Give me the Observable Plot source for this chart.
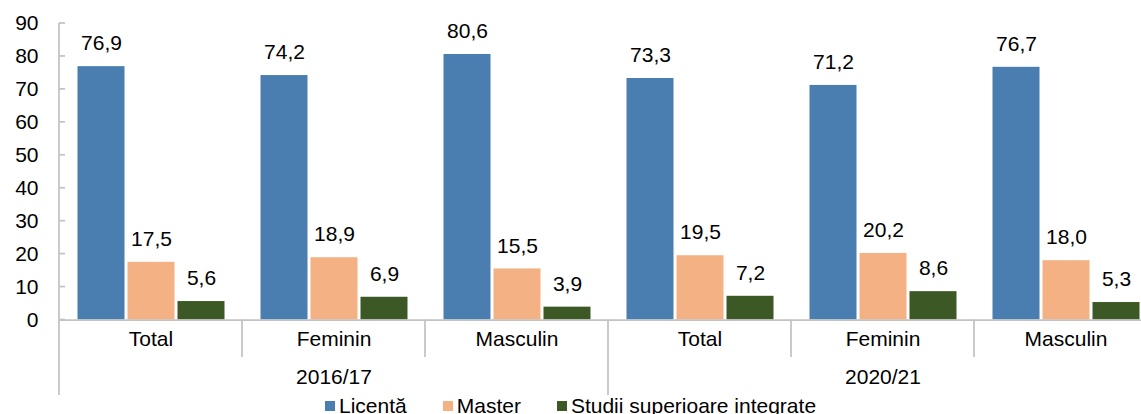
<!DOCTYPE html>
<html>
<head>
<meta charset="utf-8">
<script src="https://cdn.jsdelivr.net/npm/d3@7"></script>
<script src="https://cdn.jsdelivr.net/npm/@observablehq/plot@0.6"></script>
<style>
  html, body { margin: 0; padding: 0; background: #fff; overflow: hidden; }
  body { width: 1141px; height: 414px; font-family: "Liberation Sans", Arial, sans-serif; }
  #chart svg { display: block; max-width: none; }
  #legend { display: flex; padding-left: 325px; font-size: 21px; line-height: 21px; color: #000; height: 21px; }
  .item { display: flex; align-items: center; margin-right: 36px; }
  .sw { width: 10px; height: 10px; margin-right: 4px; }
</style>
</head>
<body>
<div id="chart"></div>
<div id="legend"></div>
<script>
const years = ["2016/17", "2020/21"];
const categories = ["Total", "Feminin", "Masculin"];
const series = ["Licentă", "Master", "Studii superioare integrate"];
const colors = ["#4a7eb1", "#f4b183", "#3b5825"];
// values per group: 2016/17 Total, Feminin, Masculin, 2020/21 Total, Feminin, Masculin
const licenta   = [76.9, 74.2, 80.6, 73.3, 71.2, 76.7];
const master    = [17.5, 18.9, 15.5, 19.5, 20.2, 18.0];
const integrate = [5.6, 6.9, 3.9, 7.2, 8.6, 5.3];
const yTicks = [0, 10, 20, 30, 40, 50, 60, 70, 80, 90];

const groups = [];
years.forEach(yr => categories.forEach(c => groups.push({key: yr + " " + c, year: yr, cat: c})));
const keys = groups.map(g => g.key);
const seriesValues = [licenta, master, integrate];
const rows = [];
groups.forEach((g, i) => series.forEach((s, j) => rows.push({key: g.key, series: s, value: seriesValues[j][i]})));
const yearRows = years.map((yr, i) => ({key: keys[i * 3 + 1], year: yr}));
const fmt = v => v.toFixed(1).replace(".", ",");

const W = 1141, H = 395;
const plot = Plot.plot({
  width: W,
  height: H,
  marginTop: 23,
  marginBottom: 75.5,
  marginLeft: 58.5,
  marginRight: 0,
  style: {fontFamily: "'Liberation Sans', Arial, sans-serif", fontSize: "21px", color: "#000", background: "#fff", overflow: "hidden"},
  fx: {domain: keys, range: [58.5, 1156.5], padding: 0, axis: null},
  x: {domain: series, paddingInner: 0.06, paddingOuter: 0.36, axis: null},
  y: {domain: [0, 90], ticks: yTicks, tickSize: 0, tickPadding: 21, label: null, line: false},
  color: {domain: series, range: colors},
  marks: [
    Plot.barY(rows, {fx: "key", x: "series", y: "value", fill: "series"}),
    Plot.ruleY([0], {stroke: "#c3c3c3", strokeWidth: 1.75}),
    Plot.text(rows, {fx: "key", x: "series", y: "value", text: d => fmt(d.value), dy: -23, fill: "#000"}),
    Plot.text(groups, {fx: "key", text: "cat", frameAnchor: "bottom", dy: 25.5, fill: "#000"}),
    Plot.text(yearRows, {fx: "key", text: "year", frameAnchor: "bottom", dy: 64, fill: "#000"})
  ]
});
document.getElementById("chart").appendChild(plot);

// axis line, ticks and category separators from the plot's own scales
const fx = plot.scale("fx");
const y = plot.scale("y");
const svg = plot.tagName.toLowerCase() === "svg" ? plot : plot.querySelector("svg");
const g = d3.select(svg).append("g").attr("stroke", "#c3c3c3").attr("stroke-width", 1.75);
const x0 = fx.apply(keys[0]);
g.append("line").attr("x1", x0).attr("x2", x0).attr("y1", y.apply(90)).attr("y2", 396);
yTicks.forEach(t => g.append("line").attr("x1", x0).attr("x2", x0 + 6).attr("y1", y.apply(t)).attr("y2", y.apply(t)));
keys.forEach((k, i) => {
  if (i === 0) return;
  const xx = fx.apply(k);
  g.append("line").attr("x1", xx).attr("x2", xx).attr("y1", y.apply(0)).attr("y2", i % 3 === 0 ? 396 : 357);
});
const xEnd = fx.apply(keys[keys.length - 1]) + fx.bandwidth;
g.append("line").attr("x1", xEnd).attr("x2", xEnd).attr("y1", y.apply(0)).attr("y2", 396);

const legend = d3.select("#legend");
series.forEach((s, i) => {
  const it = legend.append("div").attr("class", "item");
  it.append("div").attr("class", "sw").style("background", colors[i]);
  it.append("span").text(s);
});
</script>
</body>
</html>
